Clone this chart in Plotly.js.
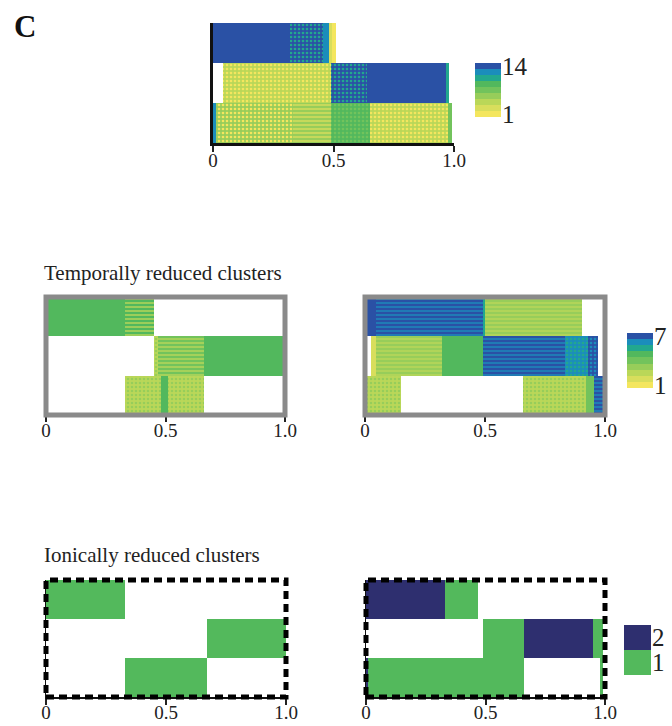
<!DOCTYPE html>
<html>
<head>
<meta charset="utf-8">
<script src="https://cdn.plot.ly/plotly-3.0.1.min.js"></script>
<style>
  html, body { margin: 0; padding: 0; background: #ffffff; }
  #chart { width: 672px; height: 726px; }
</style>
</head>
<body>
<div id="chart"></div>
<script>
// Cluster occupancy along the normalised axis (0..1), three rows per panel.
// Each segment: start, end, row (0 = top), colour band, and an optional
// second band that shows through as a dotted / striped weave.

// Colour bands shared by the multi-level scales (1 = lowest, 9 = highest)
const bandColors = ['#f4e65e', '#d8de5c', '#bad758', '#97cd5a', '#72c35c',
                    '#52b85d', '#22a88e', '#1b8dbb', '#2a51a5'];
const bandValues = [1, 2, 3, 4, 5, 6, 7, 8, 9];
// Two-level scale of the ionically reduced clusters
const ionColors = ['#53b95c', '#2e2f6f'];
const ionValues = [1, 2];

// Full clustering (scale 1..14)
const fullStart = [0.00, 0.32, 0.455, 0.48, 0.495, 0.04, 0.49, 0.64, 0.967, 0.000, 0.012, 0.33, 0.49, 0.65, 0.975];
const fullEnd   = [0.32, 0.455, 0.48, 0.495, 0.51, 0.49, 0.64, 0.967, 0.98, 0.012, 0.33, 0.49, 0.65, 0.975, 0.99];
const fullRow   = [0, 0, 0, 0, 0, 1, 1, 1, 1, 2, 2, 2, 2, 2, 2];
const fullBand  = [9, 9, 8, 2, 1, 3, 9, 9, 7, 8, 4, 4, 6, 3, 5];
const fullMix   = [0, 7, 0, 0, 0, 1, 7, 0, 0, 0, 1, 2, 5, 1, 0];
const fullWeave = ['', '.', '', '', '', '.', '.', '', '', '', '.', '-', '.', '.', ''];
const fullScaleLabels = ['1', '14'];

// Temporally reduced clusters, left (scale 1..7)
const tempAStart = [0.00, 0.33, 0.45, 0.47, 0.66, 0.99, 0.33, 0.48, 0.51];
const tempAEnd   = [0.33, 0.45, 0.47, 0.66, 0.99, 1.00, 0.48, 0.51, 0.66];
const tempARow   = [0, 0, 1, 1, 1, 1, 2, 2, 2];
const tempABand  = [6, 6, 3, 5, 6, 3, 3, 6, 3];
const tempAMix   = [0, 3, 4, 3, 0, 0, 4, 0, 4];
const tempAWeave = ['', '-', '.', '-', '', '', '.', '', '.'];

// Temporally reduced clusters, right (scale 1..7)
const tempBStart = [0.000, 0.045, 0.49, 0.50, 0.025, 0.045, 0.32, 0.49, 0.835, 0.93, 0.00, 0.01, 0.66, 0.92, 0.955];
const tempBEnd   = [0.045, 0.49, 0.50, 0.905, 0.045, 0.32, 0.49, 0.835, 0.93, 0.97, 0.01, 0.15, 0.92, 0.955, 0.99];
const tempBRow   = [0, 0, 0, 0, 1, 1, 1, 1, 1, 1, 2, 2, 2, 2, 2];
const tempBBand  = [9, 9, 7, 4, 2, 4, 6, 9, 8, 9, 6, 3, 3, 5, 9];
const tempBMix   = [0, 8, 0, 3, 0, 3, 0, 8, 7, 8, 0, 4, 4, 0, 8];
const tempBWeave = ['', '-', '', '-', '', '-', '', '-', '.', '.', '', '.', '.', '', '-'];
const tempScaleLabels = ['1', '7'];

// Ionically reduced clusters, left (scale 1..2)
const ionAStart = [0.00, 0.67, 0.33];
const ionAEnd   = [0.33, 1.00, 0.67];
const ionARow   = [0, 1, 2];
const ionALevel = [1, 1, 1];

// Ionically reduced clusters, right (scale 1..2)
const ionBStart = [0.00, 0.33, 0.49, 0.66, 0.95, 0.00, 0.01, 0.98];
const ionBEnd   = [0.33, 0.47, 0.66, 0.95, 0.99, 0.01, 0.66, 0.99];
const ionBRow   = [0, 0, 1, 1, 1, 2, 2, 2];
const ionBLevel = [2, 1, 1, 2, 1, 2, 1, 1];
const ionScaleLabels = ['1', '2'];

const xTickVals = [0, 0.5, 1];
const xTickText = ['0', '0.5', '1.0'];

const SERIF = 'Liberation Serif';

// Solid segments of one panel
function segmentTrace(start, end, row, colors, ax) {
  return {
    type: 'bar',
    orientation: 'h',
    base: start,
    x: start.map((s, i) => end[i] - s),
    y: row,
    xaxis: 'x' + ax,
    yaxis: 'y' + ax,
    marker: { color: colors, line: { width: 0 } },
    hoverinfo: 'skip',
    showlegend: false
  };
}

// Weave of the secondary band laid over the segments that carry one
function weaveTrace(start, end, row, mix, weave, ax) {
  const idx = mix.map((m, i) => i).filter(i => mix[i] > 0);
  return {
    type: 'bar',
    orientation: 'h',
    base: idx.map(i => start[i]),
    x: idx.map(i => end[i] - start[i]),
    y: idx.map(i => row[i]),
    xaxis: 'x' + ax,
    yaxis: 'y' + ax,
    marker: {
      color: idx.map(i => bandColors[mix[i] - 1]),
      line: { width: 0 },
      pattern: {
        shape: idx.map(i => weave[i]),
        fillmode: 'replace',
        size: 4,
        solidity: 0.35
      }
    },
    hoverinfo: 'skip',
    showlegend: false
  };
}

function scaleTrace(values, colors, ax) {
  const n = values.length;
  const scale = [];
  colors.forEach((c, i) => {
    scale.push([i / n, c]);
    scale.push([(i + 1) / n, c]);
  });
  return {
    type: 'heatmap',
    z: values.map(v => [v]),
    y: values,
    x: [0],
    xaxis: 'x' + ax,
    yaxis: 'y' + ax,
    colorscale: scale,
    zmin: 0.5,
    zmax: n + 0.5,
    zsmooth: false,
    showscale: false,
    hoverinfo: 'skip'
  };
}

const toBand = b => bandColors[b - 1];
const toIon = l => ionColors[l - 1];

const traces = [
  segmentTrace(fullStart, fullEnd, fullRow, fullBand.map(toBand), ''),
  weaveTrace(fullStart, fullEnd, fullRow, fullMix, fullWeave, ''),
  segmentTrace(tempAStart, tempAEnd, tempARow, tempABand.map(toBand), '2'),
  weaveTrace(tempAStart, tempAEnd, tempARow, tempAMix, tempAWeave, '2'),
  segmentTrace(tempBStart, tempBEnd, tempBRow, tempBBand.map(toBand), '3'),
  weaveTrace(tempBStart, tempBEnd, tempBRow, tempBMix, tempBWeave, '3'),
  segmentTrace(ionAStart, ionAEnd, ionARow, ionALevel.map(toIon), '4'),
  segmentTrace(ionBStart, ionBEnd, ionBRow, ionBLevel.map(toIon), '5'),
  scaleTrace(bandValues, bandColors, '6'),
  scaleTrace(bandValues, bandColors, '7'),
  scaleTrace(ionValues, ionColors, '8')
];

const W = 672, H = 726;
const px = (a, b) => [a / W, b / W];
const py = (top, bottom) => [1 - bottom / H, 1 - top / H];

function panelX(domain, anchor, extra) {
  return Object.assign({
    domain: domain, anchor: anchor, range: [0, 1],
    tickvals: xTickVals, ticktext: xTickText,
    ticks: 'outside', ticklen: 6, tickwidth: 2, tickcolor: '#222',
    ticklabelstandoff: -8,
    tickfont: { family: SERIF, size: 19, color: '#222' },
    showgrid: false, zeroline: false, fixedrange: true
  }, extra || {});
}
function panelY(domain, anchor, extra) {
  return Object.assign({
    domain: domain, anchor: anchor, range: [2.5, -0.5],
    showticklabels: false, ticks: '', showgrid: false, zeroline: false, fixedrange: true
  }, extra || {});
}
function scaleX(domain, anchor) {
  return { domain: domain, anchor: anchor, visible: false, fixedrange: true };
}
function scaleY(domain, anchor, n, labels) {
  return {
    domain: domain, anchor: anchor, side: 'right', range: [0.5, n + 0.5],
    tickvals: [1, n], ticktext: labels, ticks: '',
    tickfont: { family: SERIF, size: 25, color: '#222' },
    showgrid: false, zeroline: false, showline: false, fixedrange: true
  };
}

function frame(ax, color, dash) {
  const xr = 'x' + ax + ' domain', yr = 'y' + ax + ' domain';
  return {
    type: 'rect', xref: xr, yref: yr, x0: 0, x1: 1, y0: 0, y1: 1,
    line: { color: color, width: 5, dash: dash }, fillcolor: 'rgba(0,0,0,0)', layer: 'above'
  };
}

const layout = {
  width: W, height: H,
  margin: { l: 0, r: 0, t: 0, b: 0 },
  paper_bgcolor: '#ffffff', plot_bgcolor: 'rgba(0,0,0,0)',
  barmode: 'overlay', bargap: 0,
  showlegend: false,
  xaxis: panelX(px(213, 454), 'y', { showline: true, linewidth: 3, linecolor: '#111' }),
  yaxis: panelY(py(23, 143), 'x', { showline: true, linewidth: 3, linecolor: '#111' }),
  xaxis2: panelX(px(46, 285), 'y2'),
  yaxis2: panelY(py(297, 415), 'x2'),
  xaxis3: panelX(px(365, 605), 'y3'),
  yaxis3: panelY(py(297, 415), 'x3'),
  xaxis4: panelX(px(46, 286), 'y4', { showline: true, linewidth: 1.5, linecolor: '#111' }),
  yaxis4: panelY(py(580, 697), 'x4', { showline: true, linewidth: 1.5, linecolor: '#111' }),
  xaxis5: panelX(px(366, 605), 'y5', { showline: true, linewidth: 1.5, linecolor: '#111' }),
  yaxis5: panelY(py(580, 697), 'x5', { showline: true, linewidth: 1.5, linecolor: '#111' }),
  xaxis6: scaleX(px(475, 501), 'y6'),
  yaxis6: scaleY(py(63, 117), 'x6', bandValues.length, fullScaleLabels),
  xaxis7: scaleX(px(627, 653), 'y7'),
  yaxis7: scaleY(py(333, 388), 'x7', bandValues.length, tempScaleLabels),
  xaxis8: scaleX(px(624, 651), 'y8'),
  yaxis8: scaleY(py(625, 675), 'x8', ionValues.length, ionScaleLabels),
  shapes: [
    frame('2', '#8a8a8a'),
    frame('3', '#8a8a8a'),
    frame('4', '#000000', '8px,5px'),
    frame('5', '#000000', '8px,5px')
  ],
  annotations: [
    { text: '<b>C</b>', xref: 'paper', yref: 'paper', x: 12 / W, y: 1 - 27 / H,
      xanchor: 'left', yanchor: 'middle', showarrow: false,
      font: { family: SERIF, size: 31, color: '#111' } },
    { text: 'Temporally reduced clusters', xref: 'paper', yref: 'paper', x: 42 / W, y: 1 - 273 / H,
      xanchor: 'left', yanchor: 'middle', showarrow: false,
      font: { family: SERIF, size: 21, color: '#222' } },
    { text: 'Ionically reduced clusters', xref: 'paper', yref: 'paper', x: 42 / W, y: 1 - 555 / H,
      xanchor: 'left', yanchor: 'middle', showarrow: false,
      font: { family: SERIF, size: 21, color: '#222' } }
  ]
};

Plotly.newPlot('chart', traces, layout, { staticPlot: true, displayModeBar: false });
</script>
</body>
</html>
